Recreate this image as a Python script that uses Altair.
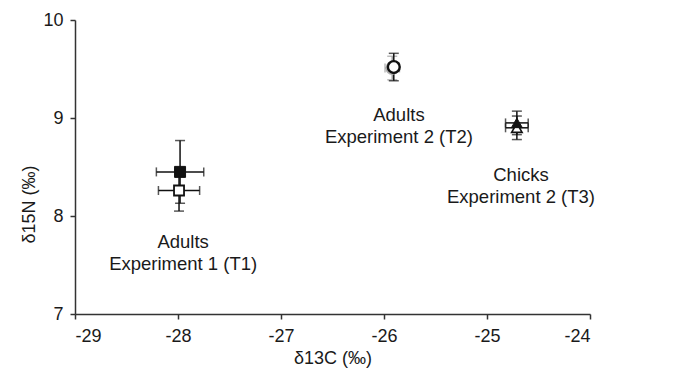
import altair as alt
import pandas as pd

# ---- data ----
series = ["T1 open", "T1 filled", "T2 under", "T2 open", "T3 open", "T3 filled"]
d13c = [-27.99, -27.98, -25.92, -25.905, -24.71, -24.71]
d15n = [8.26, 8.45, 9.51, 9.52, 8.90, 8.95]
d13c_err = [0.20, 0.23, 0.07, 0.05, 0.11, 0.11]
d15n_err = [0.21, 0.32, 0.12, 0.14, 0.12, 0.12]

label_x = [-27.95, -25.855, -24.67]
label_y = [7.73, 9.03, 8.42]
label_text = ["Adults\nExperiment 1 (T1)", "Adults\nExperiment 2 (T2)", "Chicks\nExperiment 2 (T3)"]

x_ticks = [-29, -28, -27, -26, -25, -24]
y_ticks = [7, 8, 9, 10]

FONT = "Liberation Sans"
TXT = "#1a1a1a"

df = pd.DataFrame({"series": series, "x": d13c, "y": d15n, "xe": d13c_err, "ye": d15n_err})
df["xlo"] = df.x - df.xe
df["xhi"] = df.x + df.xe
df["ylo"] = df.y - df.ye
df["yhi"] = df.y + df.ye
lab = pd.DataFrame({"x": label_x, "y": label_y, "text": label_text})

xs = alt.Scale(domain=[-29, -24], nice=False, zero=False)
ys = alt.Scale(domain=[7, 10], nice=False, zero=False)

xax = alt.Axis(values=x_ticks, labelExpr="'' + datum.value", title="δ13C (‰)", grid=False,
               domainColor="#333", domainWidth=1.5, tickColor="#333", tickWidth=1.5, tickSize=5,
               labelFont=FONT, labelFontSize=18, labelColor=TXT, labelPadding=8,
               titleFont=FONT, titleFontSize=18, titleFontWeight="normal", titleColor=TXT,
               titleBaseline="middle", titleY=44)
yax = alt.Axis(values=y_ticks, labelExpr="'' + datum.value", title="δ15N (‰)", grid=False,
               domainColor="#333", domainWidth=1.5, tickColor="#333", tickWidth=1.5, tickSize=5,
               labelFont=FONT, labelFontSize=18, labelColor=TXT, labelPadding=7,
               titleFont=FONT, titleFontSize=18, titleFontWeight="normal", titleColor=TXT,
               titleBaseline="middle", titleAngle=270, titleX=-46, titleY=184)

base = alt.Chart(df)


def bars(sel, color):
    b = base.transform_filter(sel)
    v = b.mark_rule(color=color, strokeWidth=1.5).encode(
        x=alt.X("x:Q", scale=xs, axis=xax), y=alt.Y("ylo:Q", scale=ys, axis=yax), y2="yhi:Q")
    h = b.mark_rule(color=color, strokeWidth=1.5).encode(
        x=alt.X("xlo:Q", scale=xs), x2="xhi:Q", y=alt.Y("y:Q", scale=ys))
    c1 = b.mark_tick(orient="horizontal", size=10, thickness=1.5, color=color).encode(
        x=alt.X("x:Q", scale=xs), y=alt.Y("ylo:Q", scale=ys))
    c2 = b.mark_tick(orient="horizontal", size=10, thickness=1.5, color=color).encode(
        x=alt.X("x:Q", scale=xs), y=alt.Y("yhi:Q", scale=ys))
    c3 = b.mark_tick(orient="vertical", size=9, thickness=1.5, color=color).encode(
        x=alt.X("xlo:Q", scale=xs), y=alt.Y("y:Q", scale=ys))
    c4 = b.mark_tick(orient="vertical", size=9, thickness=1.5, color=color).encode(
        x=alt.X("xhi:Q", scale=xs), y=alt.Y("y:Q", scale=ys))
    return [v, h, c1, c2, c3, c4]


def marker(name, shape, size, fill, stroke, sw):
    return base.transform_filter(alt.datum.series == name).mark_point(
        shape=shape, size=size, filled=True, fill=fill, stroke=stroke, strokeWidth=sw, opacity=1
    ).encode(x=alt.X("x:Q", scale=xs), y=alt.Y("y:Q", scale=ys))


layers = []
layers += bars(alt.datum.series == "T2 under", "#a0a0a0")
layers += bars(alt.datum.series != "T2 under", "#111")
layers += [
    marker("T2 under", "circle", 150, "white", "#b0b0b0", 1.5),
    marker("T1 open", "square", 100, "white", "#111", 1.8),
    marker("T1 filled", "square", 121, "#111", "#111", 1),
    marker("T2 open", "circle", 140, "white", "#111", 2.4),
    marker("T3 open", "triangle-up", 110, "white", "#111", 1.6),
    marker("T3 filled", "triangle-up", 120, "#111", "#111", 1),
]
texts = alt.Chart(lab).mark_text(font=FONT, fontSize=18.5, color=TXT, lineBreak="\n",
                                 lineHeight=22, align="center", baseline="middle").encode(
    x=alt.X("x:Q", scale=xs), y=alt.Y("y:Q", scale=ys), text="text:N")
layers.append(texts)

chart = alt.layer(*layers).properties(
    width=515, height=294,
    autosize=alt.AutoSizeParams(type="none"),
    padding={"left": 75, "top": 20, "right": 84, "bottom": 66},
    background="white",
).configure_view(stroke=None)

chart.save("out.html", embed_options={"renderer": "svg", "actions": False})
